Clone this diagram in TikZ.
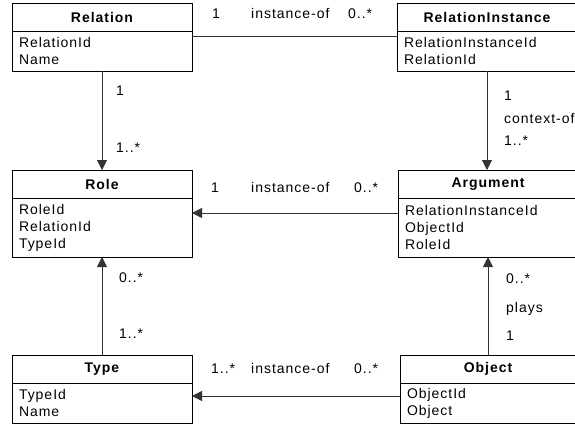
\documentclass[tikz,border=0pt]{standalone}
\usepackage{fontspec}
\setmainfont{Liberation Sans}[LetterSpace=7]
\usetikzlibrary{arrows.meta,positioning}

\begin{document}
\begin{tikzpicture}[x=1pt,y=-1pt,
	head node/.style={draw,line width=1pt,outer sep=0pt,minimum height=28pt,minimum width=#1,inner sep=0pt,anchor=north west,font=\fontsize{14}{17}\selectfont\bfseries},
	body node/.style={draw,line width=1pt,outer sep=0pt,anchor=north,inner xsep=7pt,text width=#1-14pt,align=left,font=\fontsize{14}{17}\selectfont},
	label node/.style={anchor=base west,inner sep=0pt,font=\fontsize{14}{17}\selectfont},
	link/.style={line width=0.8pt,black!80},
	arrow link/.style={link,-{Triangle[width=10pt,length=10pt]}}
]
	\useasboundingbox (0,0) rectangle (575,423);

	% classes
	\node[head node=180pt] (rel) at (12,3) {Relation};
	\node[body node=180pt,minimum height=40pt] (relb) at (rel.south) {RelationId\\Name};

	\node[head node=180pt] (ri) at (397,3) {RelationInstance};
	\node[body node=180pt,minimum height=40pt] (rib) at (ri.south) {RelationInstanceId\\RelationId};

	\node[head node=180pt] (role) at (12,170) {Role};
	\node[body node=180pt,minimum height=59pt] (roleb) at (role.south) {RoleId\\RelationId\\TypeId};

	\node[head node=180pt] (arg) at (398,170) {Argument};
	\node[body node=180pt,minimum height=59pt] (argb) at (arg.south) {RelationInstanceId\\ObjectId\\RoleId};

	\node[head node=180pt] (type) at (12,355) {Type};
	\node[body node=180pt,minimum height=40pt] (typeb) at (type.south) {TypeId\\Name};

	\node[head node=176pt] (obj) at (400,355) {Object};
	\node[body node=176pt,minimum height=40pt] (objb) at (obj.south) {ObjectId\\Object};

	% links
	\draw[link] ([yshift=-5pt]relb.north east) -- ([yshift=-5pt]rib.north west);
	\draw[arrow link] (relb.south) -- (role.north);
	\draw[arrow link] (rib.south) -- (rib.south |- arg.north);
	\draw[arrow link] ([yshift=-15pt]argb.north west) -- ([yshift=-15pt]roleb.north east);
	\draw[arrow link] (type.north) -- (roleb.south);
	\draw[arrow link] (obj.north) -- (obj.north |- argb.south);
	\draw[arrow link] ([yshift=-13pt]objb.north west) -- ([yshift=-13pt]typeb.north east);

	% multiplicities and roles
	\foreach \x/\y/\t [count=\i] in {212/18/1, 251/18/instance-of, 348/18/0..*,
		116/95/1, 116/152/1..*,
		504/100/1, 504/123/context-of, 504/145/1..*,
		211/192/1, 251/192/instance-of, 354/192/0..*,
		119/282/0..*, 119/338/1..*,
		506/283/0..*, 506/312/plays, 506/340/1,
		211/373/1..*, 251/373/instance-of, 354/373/0..*}
		\node[label node] (lbl\i) at (\x,\y) {\t};
\end{tikzpicture}
\end{document}
